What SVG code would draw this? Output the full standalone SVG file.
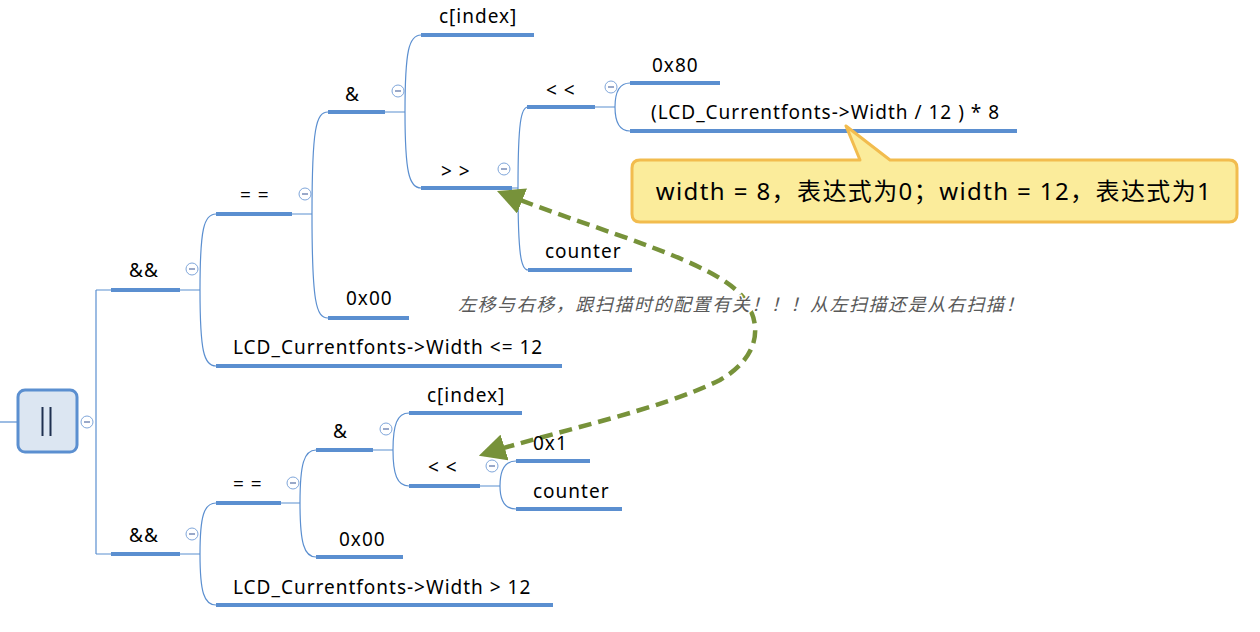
<svg xmlns="http://www.w3.org/2000/svg" width="1260" height="632" viewBox="0 0 1260 632">
<defs>
<style>
.t{font-family:"Noto Sans","Noto Sans CJK SC",sans-serif;font-size:19px;letter-spacing:1px;fill:#000}
.ul{stroke:#5b8fd0;stroke-width:4;fill:none}
.cn{stroke:#5b8fd0;stroke-width:1.2;fill:none}
.cs{fill:#fff;stroke:#7fa6da;stroke-width:1}
.cd{stroke:#9aa9c9;stroke-width:2}
.dash{stroke:#77923a;stroke-width:4.5;fill:none;stroke-dasharray:13 7}
.note{font-family:"Noto Sans CJK SC",sans-serif;font-size:18px;letter-spacing:1.55px;font-style:italic;fill:#595959;stroke:#fff;stroke-width:3px;paint-order:stroke}
</style>
<marker id="ah" viewBox="0 0 10 10" refX="8" refY="5" markerWidth="6" markerHeight="6" orient="auto-start-reverse" markerUnits="strokeWidth">
<path d="M0,0 L10,5 L0,10 z" fill="#77923a"/>
</marker>
<g id="col"><circle r="6" class="cs"/><line x1="-3" y1="0" x2="3" y2="0" class="cd"/></g>
</defs>
<rect width="1260" height="632" fill="#fff"/>

<g id="connectors">
<line x1="0" y1="422" x2="18" y2="422" class="cn"/>
<path d="M96,290 V554 M96,290 H111 M96,554 H111" class="cn"/>
<path d="M180,290 H200 M200,290 C200,228 204,214 216,214 M200,290 C200,352 204,366 216,366" class="cn"/>
<path d="M292,214 H312 M312,214 C312,128 316,112 328,112 M312,214 C312,302 316,318 328,318" class="cn"/>
<path d="M385,112 H405 M405,112 C405,50 409,35 421,35 M405,112 C405,172 409,188 421,188" class="cn"/>
<path d="M512,188 H518 M518,188 C518,122 521,107 528,107 M518,188 C518,255 521,270 528,270" class="cn"/>
<path d="M595,107 H615 M615,107 C615,90 620,83 630,83 M615,107 C615,124 620,131 630,131" class="cn"/>
<path d="M180,554 H200 M200,554 C200,516 204,503 216,503 M200,554 C200,592 204,605 216,605" class="cn"/>
<path d="M281,503 H300 M300,503 C300,464 304,450 316,450 M300,503 C300,543 304,557 316,557" class="cn"/>
<path d="M373,450 H393 M393,450 C393,425 397,413 409,413 M393,450 C393,474 397,486 409,486" class="cn"/>
<path d="M480,486 H500 M500,486 C500,470 505,461 516,461 M500,486 C500,500 505,509 516,509" class="cn"/>
<path d="M502,193 C600,232 720,262 745,300 C765,330 755,360 720,380 C660,410 560,430 484,454" class="dash" marker-start="url(#ah)" marker-end="url(#ah)"/>
</g>

<g id="root">
<rect x="18" y="390" width="59" height="62" rx="7" fill="#dce6f2" stroke="#5b8fd0" stroke-width="3"/>
<line x1="42.5" y1="407" x2="42.5" y2="436" stroke="#1f3050" stroke-width="2"/>
<line x1="50.5" y1="407" x2="50.5" y2="436" stroke="#1f3050" stroke-width="2"/>
<use href="#col" x="87" y="422"/>
</g>

<g id="and1"><line x1="111" y1="290" x2="180" y2="290" class="ul"/><text x="129" y="277" class="t">&amp;&amp;</text><use href="#col" x="192" y="269"/></g>
<g id="eq1"><line x1="216" y1="214" x2="292" y2="214" class="ul"/><text x="240" y="202" class="t">= =</text><use href="#col" x="305" y="194"/></g>
<g id="bitand1"><line x1="328" y1="112" x2="385" y2="112" class="ul"/><text x="345" y="101" class="t">&amp;</text><use href="#col" x="398" y="91"/></g>
<g id="cindex1"><line x1="421" y1="35" x2="534" y2="35" class="ul"/><text x="439" y="23" class="t">c[index]</text></g>
<g id="shr"><line x1="421" y1="188" x2="512" y2="188" class="ul"/><text x="441" y="178" class="t">&gt; &gt;</text><use href="#col" x="504" y="169"/></g>
<g id="shl1"><line x1="527" y1="107" x2="595" y2="107" class="ul"/><text x="546" y="97" class="t">&lt; &lt;</text><use href="#col" x="611" y="87"/></g>
<g id="x80"><line x1="630" y1="83" x2="720" y2="83" class="ul"/><text x="652" y="72" class="t">0x80</text></g>
<g id="expr"><line x1="630" y1="131" x2="1017" y2="131" class="ul"/><text x="651" y="119" class="t">(LCD_Currentfonts-&gt;Width / 12 ) * 8</text></g>
<g id="counter1"><line x1="528" y1="270" x2="632" y2="270" class="ul"/><text x="545" y="258" class="t">counter</text></g>
<g id="x00a"><line x1="328" y1="318" x2="409" y2="318" class="ul"/><text x="346" y="305" class="t">0x00</text></g>
<g id="le12"><line x1="216" y1="366" x2="562" y2="366" class="ul"/><text x="233" y="354" class="t">LCD_Currentfonts-&gt;Width &lt;= 12</text></g>

<g id="and2"><line x1="111" y1="554" x2="180" y2="554" class="ul"/><text x="129" y="542" class="t">&amp;&amp;</text><use href="#col" x="192" y="534"/></g>
<g id="eq2"><line x1="216" y1="503" x2="281" y2="503" class="ul"/><text x="233" y="491" class="t">= =</text><use href="#col" x="293" y="483"/></g>
<g id="bitand2"><line x1="316" y1="450" x2="373" y2="450" class="ul"/><text x="333" y="438" class="t">&amp;</text><use href="#col" x="386" y="429"/></g>
<g id="cindex2"><line x1="409" y1="413" x2="522" y2="413" class="ul"/><text x="427" y="402" class="t">c[index]</text></g>
<g id="shl2"><line x1="409" y1="486" x2="480" y2="486" class="ul"/><text x="428" y="474" class="t">&lt; &lt;</text><use href="#col" x="492" y="466"/></g>
<g id="x1"><line x1="516" y1="461" x2="590" y2="461" class="ul"/><text x="533" y="450" class="t">0x1</text></g>
<g id="counter2"><line x1="516" y1="509" x2="622" y2="509" class="ul"/><text x="533" y="498" class="t">counter</text></g>
<g id="x00b"><line x1="316" y1="557" x2="403" y2="557" class="ul"/><text x="339" y="546" class="t">0x00</text></g>
<g id="gt12"><line x1="216" y1="605" x2="553" y2="605" class="ul"/><text x="233" y="594" class="t">LCD_Currentfonts-&gt;Width &gt; 12</text></g>

<g id="callout">
<path d="M640,160 H860 L846,126 L890,160 H1229 Q1237,160 1237,168 V214 Q1237,222 1229,222 H640 Q632,222 632,214 V168 Q632,160 640,160 Z" fill="#fbec9b" stroke="#f2bc4e" stroke-width="3" stroke-linejoin="round"/>
<text x="934" y="200" text-anchor="middle" style="font-family:'Noto Sans','Noto Sans CJK SC',sans-serif;font-size:24px;letter-spacing:1.4px;fill:#000">width = 8，表达式为0；width = 12，表达式为1</text>
</g>

<g id="note"><text x="458" y="311" class="note">左移与右移，跟扫描时的配置有关！！！从左扫描还是从右扫描！</text></g>
</svg>
